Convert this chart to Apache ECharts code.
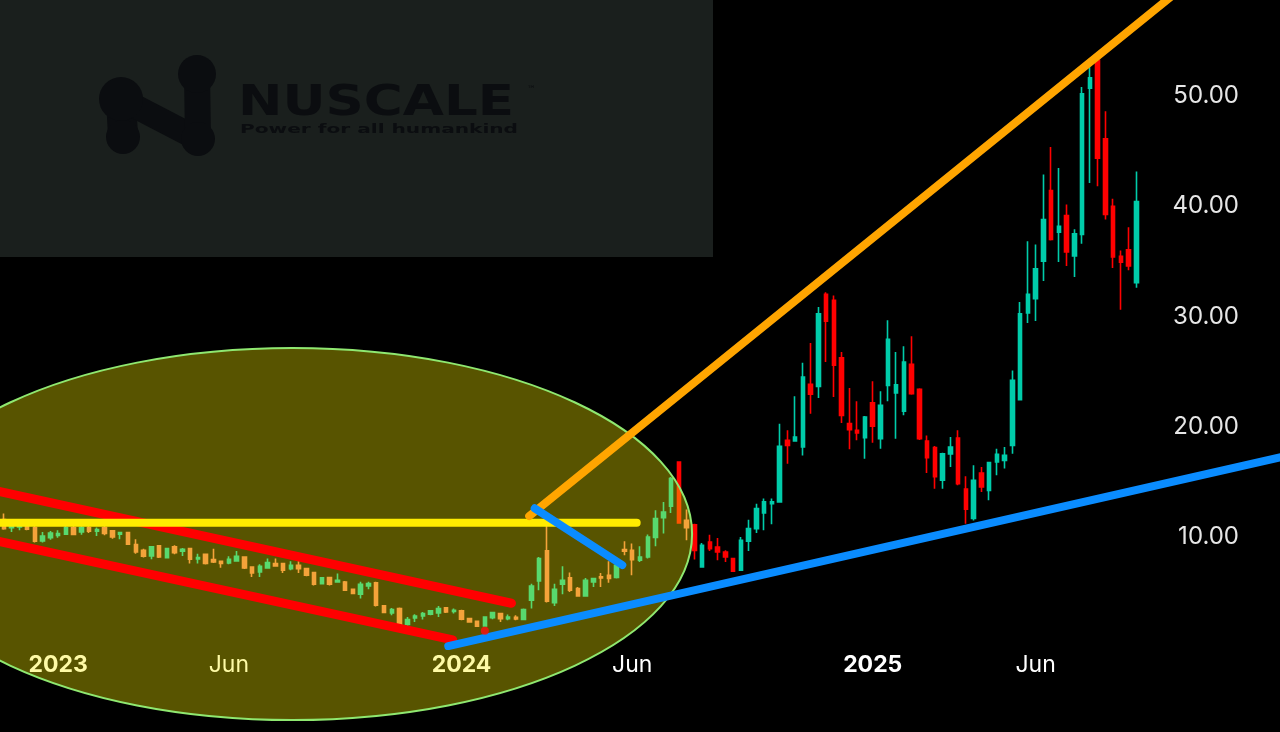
<!DOCTYPE html>
<html><head><meta charset="utf-8">
<script src="https://cdn.jsdelivr.net/npm/echarts@6/dist/echarts.min.js"></script>
<style>html,body{margin:0;padding:0;background:#000;}#c{width:1280px;height:732px;}</style>
</head><body><div id="c"></div>
<script>
// ---- data ----
const startDate = '2022-11-14';   // first weekly candle (Monday)
const weekCount = 165;            // weekly slots on the axis (147 candles + empty future weeks)
// weekly candles: [open, close, low, high]
const candles = [
[11.58,10.76,10.65,12.12],[10.85,11.3,10.46,11.5],[10.9,11.2,10.6,11.4],[11.2,10.7,10.6,11.4],[10.85,9.61,9.5,11.0],
[9.64,10.09,9.49,10.46],[9.94,10.36,9.76,10.55],[10.15,10.31,9.94,10.61],[10.25,10.85,10.2,11.0],[10.85,10.22,10.15,11.0],
[10.46,10.85,10.2,11.0],[10.85,10.52,10.36,11.0],[10.52,10.67,10.09,10.85],[10.85,10.31,10.15,11.0],[10.55,10.0,9.85,10.6],
[10.25,10.4,9.79,10.45],[10.4,9.34,9.3,10.45],[9.31,8.64,8.49,9.79],[8.79,8.25,8.13,8.94],[8.28,9.1,7.98,9.19],
[9.19,8.19,8.1,9.25],[8.13,8.94,8.05,9.0],[9.1,8.58,8.43,9.25],[8.7,8.88,8.28,9.0],[8.94,7.98,7.59,9.0],
[8.01,8.13,7.59,8.49],[8.43,7.59,7.5,8.5],[7.95,7.74,7.65,8.94],[7.8,7.59,7.22,7.85],[7.65,7.98,7.53,8.25],
[7.83,8.25,7.77,8.73],[8.19,7.19,7.1,8.25],[7.28,6.74,6.38,7.3],[6.83,7.34,6.38,7.52],[7.19,7.68,7.13,8.04],
[7.59,7.37,7.3,8.04],[7.59,6.98,6.74,7.65],[7.13,7.43,6.98,7.8],[7.43,7.13,6.74,7.8],[7.13,6.53,6.45,7.2],
[6.77,5.71,5.6,6.85],[5.77,6.29,5.7,6.35],[6.32,5.71,5.6,6.4],[5.92,6.07,5.92,6.68],[5.92,5.17,5.1,6.0],
[5.26,4.87,4.8,5.3],[4.81,5.71,4.42,5.93],[5.56,5.77,5.26,5.93],[5.84,3.81,3.7,5.93],[3.75,3.15,3.1,3.8],
[3.12,3.42,2.9,3.57],[3.51,2.0,1.9,3.6],[2.06,2.51,1.94,2.75],[2.66,2.84,2.3,2.99],[2.84,3.05,2.51,3.2],
[2.99,3.3,2.9,3.36],[3.12,3.51,2.75,3.75],[3.57,3.2,3.1,3.63],[3.24,3.36,3.05,3.51],[3.3,2.54,2.45,3.4],
[2.6,2.3,2.25,2.65],[2.36,1.91,1.85,2.4],[1.94,2.75,1.85,2.81],[2.69,3.15,2.54,3.2],[3.05,2.6,2.3,3.1],
[2.6,2.75,2.45,2.96],[2.72,2.57,2.45,2.9],[2.51,3.42,2.45,3.51],[4.26,5.56,3.51,5.77],[6.02,8.04,5.17,8.19],
[8.74,4.17,4.05,11.06],[4.05,5.26,3.75,5.77],[5.71,6.08,4.81,7.35],[6.29,5.17,5.02,6.77],[5.32,4.66,4.6,5.47],
[4.66,6.08,4.57,6.29],[5.93,6.23,5.47,6.29],[6.38,6.29,5.47,6.74],[6.53,6.23,5.84,7.8],[6.32,7.43,6.23,7.59],
[8.86,8.7,8.34,9.61],[8.8,7.95,6.53,9.4],[7.89,8.19,7.74,9.16],[8.19,10.0,8.04,10.22],[9.95,11.67,9.16,12.42],
[11.76,12.27,10.31,13.18],[12.79,15.3,12.18,15.45],[16.8,11.28,11.2,16.86],[11.52,10.85,9.7,12.5],[11.1,8.79,7.95,11.2],
[7.28,9.24,7.22,9.45],[9.55,8.94,8.73,10.21],[9.09,8.64,7.89,9.91],[8.64,8.19,7.74,8.79],[8.04,6.89,6.85,8.1],
[6.98,9.7,6.92,10.0],[9.61,10.76,8.73,11.57],[10.76,12.57,10.36,13.02],[12.18,13.18,10.6,13.48],[13.02,13.18,11.15,13.48],
[13.18,18.22,13.1,20.27],[18.77,18.31,16.65,19.67],[18.71,19.07,18.7,22.76],[18.16,24.51,17.4,25.8],[23.84,22.94,21.18,27.59],
[23.66,30.25,22.6,30.86],[32.0,29.56,25.87,32.2],[31.46,25.57,22.7,31.9],[26.26,21.03,20.34,26.77],[20.28,19.73,17.95,23.51],
[19.67,19.43,18.77,22.3],[19.01,20.88,17.1,20.97],[22.18,20.04,18.55,24.12],[18.92,21.94,18.0,23.21],[23.75,27.92,22.3,29.65],
[23.06,23.81,18.92,26.77],[21.4,25.87,21.03,27.29],[25.66,23.0,22.9,28.2],[23.39,18.92,18.8,23.5],[18.71,17.2,15.8,19.2],
[18.1,15.47,14.38,18.25],[15.14,17.55,14.38,17.65],[17.52,18.16,16.35,19.07],[18.97,14.84,14.7,19.67],[14.35,12.52,11.21,15.5],
[11.67,15.14,11.5,16.5],[15.8,14.53,14.08,16.35],[14.23,16.74,13.33,16.8],[16.8,17.5,15.6,18.0],[16.95,17.4,16.2,18.16],
[18.31,24.21,17.55,25.11],[22.45,30.25,22.4,31.3],[30.31,32.0,29.4,36.81],[31.61,34.33,29.58,36.53],[35.02,38.8,33.21,42.88],
[41.43,36.99,36.9,45.36],[37.65,38.17,34.93,43.46],[39.16,35.84,34.57,40.16],[35.48,37.5,33.57,37.9],[37.44,50.19,36.6,50.8],
[50.71,51.65,42.1,52.61],[53.22,44.36,41.82,53.37],[46.12,39.26,38.8,48.62],[39.98,35.39,34.39,40.68],[35.45,34.93,30.61,35.99],
[36.05,34.57,34.18,38.1],[33.06,40.43,32.6,43.15]
];
// x-axis tick labels
const xLabelDates = ['2023-01-02','2023-06-05','2024-01-01','2024-06-03','2025-01-06','2025-06-02'];
const xLabelTexts = ['2023','Jun','2024','Jun','2025','Jun'];
const xLabelBold  = [true,false,true,false,true,false];
// y-axis
const yMin = 0, yMax = 58.7, yInterval = 10;
// drawn trend lines: [date, price] anchors
const redUpperLine  = [['2022-11-03',14.27],['2024-02-15',3.99]];
const redLowerLine  = [['2022-11-03',9.74],['2023-12-24',0.66]];
const yellowLine    = [['2022-11-03',11.30],['2024-06-07',11.30]];
const orangeLine    = [['2024-03-02',11.90],['2025-10-19',60.37]];
const blueShortLine = [['2024-03-07',12.60],['2024-05-25',7.46]];
const blueLongLine  = [['2023-12-20',0.11],['2026-01-17',17.42]];
const redDot        = [['2024-01-22',1.5]];
// highlight ellipse (bounding box in data terms)
const ellipseBox = {from:'2022-08-06', to:'2024-07-27', top:27.14, bottom:-6.6};

// ---- helpers ----
const DAY = 86400000;
function utc(s){const p=s.split('-').map(Number);return Date.UTC(p[0],p[1]-1,p[2]);}
function fmt(t){const d=new Date(t);const m=d.getUTCMonth()+1,dd=d.getUTCDate();return d.getUTCFullYear()+'-'+(m<10?'0':'')+m+'-'+(dd<10?'0':'')+dd;}
const t0 = utc(startDate);
const categories = [];
for (let i=0;i<weekCount;i++) categories.push(fmt(t0 + i*7*DAY));
const toPts = arr => arr.map(p => [utc(p[0]), p[1]]);

const UP = '#00ccaa', DOWN = '#ff0000', DOWN_UNDER_HIGHLIGHT = '#f07a5a';

const chart = echarts.init(document.getElementById('c'), null, {renderer:'canvas'});

function lineSeries(pts, color, width){
  return {type:'line', xAxisIndex:1, yAxisIndex:0, data:toPts(pts), symbol:'none', clip:false, silent:true,
    z:20, lineStyle:{color:color, width:width, cap:'round'}, animation:false};
}

const option = {
  backgroundColor:'#000000',
  animation:false,
  grid:{left:0, right:0, top:0, bottom:84.75, containLabel:false},
  xAxis:[
    {type:'category', data:categories, boundaryGap:true,
     axisLine:{show:false}, axisTick:{show:false}, splitLine:{show:false},
     axisLabel:{
       interval:function(idx, val){return xLabelDates.indexOf(val) >= 0;},
       formatter:function(val){const k=xLabelDates.indexOf(val); if(k<0) return ''; return (xLabelBold[k]?'{b|':'{n|')+xLabelTexts[k]+'}';},
       margin:6,
       rich:{
         b:{fontFamily:'Inter', fontSize:23, fontWeight:'bold', color:'#ffffff'},
         n:{fontFamily:'Inter', fontSize:23, fontWeight:'normal', color:'#ffffff'}
       }
     }},
    {type:'time', show:false, min:t0 - 3.5*DAY, max:t0 + (weekCount-1)*7*DAY + 3.5*DAY}
  ],
  yAxis:{type:'value', position:'right', min:yMin, max:yMax, interval:yInterval,
    axisLine:{show:false}, axisTick:{show:false}, splitLine:{show:false},
    axisLabel:{inside:true, margin:41, color:'#e6e6e6', fontFamily:'Inter', fontSize:24,
      showMinLabel:false, showMaxLabel:false, formatter:v=>v.toFixed(2)}},
  series:[
    {type:'candlestick', xAxisIndex:0, yAxisIndex:0, data:candles, barWidth:4, z:2,
     itemStyle:{color:UP, color0:DOWN, borderColor:UP, borderColor0:DOWN, borderWidth:1.6}},
    lineSeries(redUpperLine,'#ff0000',9),
    lineSeries(redLowerLine,'#ff0000',9),
    lineSeries(yellowLine,'#ffec00',8),
    lineSeries(orangeLine,'#ffa500',8),
    lineSeries(blueShortLine,'#0a8cff',8),
    lineSeries(blueLongLine,'#0a8cff',8),
    {type:'scatter', xAxisIndex:1, yAxisIndex:0, data:toPts(redDot), symbol:'circle', symbolSize:8, z:21, silent:true,
     itemStyle:{color:'#ff1010'}}
  ]
};
chart.setOption(option);

// text measuring to stretch the logo lettering
const mctx = document.createElement('canvas').getContext('2d');
function scaleFor(text, font, target){ mctx.font = font; const w = mctx.measureText(text).width; return w>0 ? target/w : 1; }

const p1 = chart.convertToPixel({seriesIndex:1}, [utc(ellipseBox.from), ellipseBox.top]);
const p2 = chart.convertToPixel({seriesIndex:1}, [utc(ellipseBox.to), ellipseBox.bottom]);
const ecx = (p1[0]+p2[0])/2, ecy = (p1[1]+p2[1])/2, erx = Math.abs(p2[0]-p1[0])/2, ery = Math.abs(p2[1]-p1[1])/2;

// bearish candles lying fully under the highlight get a warmer tone (as in the source picture)
function inEllipse(i, v){
  const p = chart.convertToPixel({seriesIndex:0}, [i, v]);
  return Math.pow((p[0]-ecx)/erx, 2) + Math.pow((p[1]-ecy)/ery, 2) < 1;
}
const styledCandles = candles.map((c, i) => {
  if (c[1] < c[0] && inEllipse(i, c[3]) && inEllipse(i, c[2]))
    return {value:c, itemStyle:{color0:DOWN_UNDER_HIGHLIGHT, borderColor0:DOWN_UNDER_HIGHLIGHT}};
  return c;
});

const logoInk = '#0b0d10';
const fontTitle = 'bold 42px "DejaVu Sans"';
const fontTag = 'bold 12px "DejaVu Sans"';
chart.setOption({
  series:[{data:styledCandles}],
  graphic:[
    {type:'rect', z:1, silent:true, shape:{x:0,y:0,width:713,height:257}, style:{fill:'#1a1f1d'}},
    {type:'line', z:2, silent:true, shape:{x1:121,y1:99,x2:123,y2:136}, style:{stroke:logoInk, lineWidth:30, lineCap:'round'}},
    {type:'line', z:2, silent:true, shape:{x1:121,y1:99,x2:198,y2:139}, style:{stroke:logoInk, lineWidth:24, lineCap:'round'}},
    {type:'line', z:2, silent:true, shape:{x1:197,y1:74,x2:198,y2:139}, style:{stroke:logoInk, lineWidth:26, lineCap:'round'}},
    {type:'circle', z:2, silent:true, shape:{cx:121,cy:99,r:22}, style:{fill:logoInk}},
    {type:'circle', z:2, silent:true, shape:{cx:197,cy:74,r:19}, style:{fill:logoInk}},
    {type:'circle', z:2, silent:true, shape:{cx:198,cy:139,r:17}, style:{fill:logoInk}},
    {type:'circle', z:2, silent:true, shape:{cx:123,cy:137,r:17}, style:{fill:logoInk}},
    {type:'text', z:2, silent:true, x:238, y:104, scaleX:scaleFor('NUSCALE', fontTitle, 276),
     style:{text:'NUSCALE', fontFamily:'DejaVu Sans', fontSize:42, fontWeight:'bold', fill:logoInk, textVerticalAlign:'middle', textAlign:'left'}},
    {type:'text', z:2, silent:true, x:527, y:90,
     style:{text:'™', fontFamily:'DejaVu Sans', fontSize:9, fill:logoInk, textVerticalAlign:'middle', textAlign:'left'}},
    {type:'text', z:2, silent:true, x:240, y:130, scaleX:scaleFor('Power for all humankind', fontTag, 278),
     style:{text:'Power for all humankind', fontFamily:'DejaVu Sans', fontSize:12, fontWeight:'bold', fill:logoInk, textVerticalAlign:'middle', textAlign:'left'}},
    {type:'ellipse', z:10, silent:true, shape:{cx:ecx, cy:ecy, rx:erx, ry:ery},
     style:{fill:'rgba(251,240,0,0.35)', stroke:'#8fe870', lineWidth:2}}
  ]
});
</script></body></html>
